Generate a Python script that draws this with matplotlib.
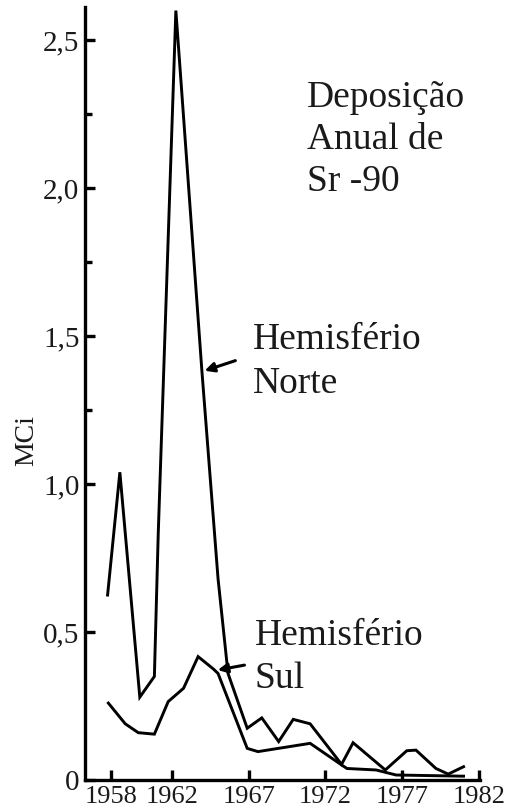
import matplotlib
matplotlib.use("Agg")
import matplotlib.pyplot as plt
import numpy as np

# Hemisfério Norte (anos, valores em MCi)
norte_anos = [1957.8, 1958.6, 1959.9, 1960.85, 1961.1, 1962.25, 1963.95, 1965.0,
              1965.65, 1966.9, 1967.85, 1968.95, 1969.9, 1971.0, 1973.05, 1973.8,
              1975.9, 1977.3, 1977.9, 1979.2, 1980.0, 1981.0]
norte_mci = [0.625, 1.04, 0.28, 0.35, 0.83, 2.60, 1.38, 0.68,
             0.36, 0.175, 0.21, 0.13, 0.205, 0.19, 0.053, 0.126,
             0.034, 0.099, 0.101, 0.039, 0.02, 0.045]

# Hemisfério Sul
sul_anos = [1957.85, 1958.95, 1959.8, 1960.85, 1961.75, 1962.75, 1963.7, 1964.7,
            1965.0, 1966.9, 1967.6, 1971.0, 1973.05, 1973.4, 1975.3, 1976.6, 1981.0]
sul_mci = [0.26, 0.19, 0.16, 0.155, 0.265, 0.31, 0.417, 0.375,
           0.36, 0.107, 0.096, 0.124, 0.051, 0.039, 0.034, 0.017, 0.013]

x_ticks = [1958, 1962, 1967, 1972, 1977, 1982]
y_ticks = [0, 0.5, 1.0, 1.5, 2.0, 2.5]
y_labels = ["0", "0,5", "1,0", "1,5", "2,0", "2,5"]
y_minor = [1.25, 1.75, 2.25]

serif = ["Liberation Serif", "DejaVu Serif"]
plt.rcParams["font.family"] = serif
cor_texto = "#1a1a1a"

fig = plt.figure(figsize=(5.07, 8.1), dpi=100)
ax = fig.add_axes([0.1677, 0.037, 0.779, 0.954])

ax.plot(norte_anos, norte_mci, color="black", lw=2.1, solid_joinstyle="miter")
ax.plot(sul_anos, sul_mci, color="black", lw=2.1, solid_joinstyle="miter")

ax.set_xlim(1956.33, 1982.07)
ax.set_ylim(0, 2.611)

for lado in ["top", "right"]:
    ax.spines[lado].set_visible(False)
for lado in ["left", "bottom"]:
    ax.spines[lado].set_linewidth(2.4)

ax.set_xticks(x_ticks)
ax.set_xticklabels([str(a) for a in x_ticks])
ax.set_yticks(y_ticks)
ax.set_yticklabels(y_labels)
ax.set_yticks(y_minor, minor=True)
ax.tick_params(axis="both", which="major", direction="in", length=7, width=2.4,
               labelsize=19, colors="black", labelcolor=cor_texto)
ax.tick_params(axis="x", pad=4)
ax.tick_params(axis="y", pad=4, labelsize=21)
ax.tick_params(axis="y", which="minor", direction="in", length=5, width=2.4)

ax.set_ylabel("MCi", fontsize=20, color=cor_texto)
ax.yaxis.set_label_coords(-0.115, 0.44)

ax.text(1970.8, 2.365, "Deposição\nAnual de\nSr -90", fontsize=27, va="top",
        ha="left", color=cor_texto, linespacing=1.3)
ax.text(1967.3, 1.545, "Hemisfério\nNorte", fontsize=27, va="top",
        ha="left", color=cor_texto, linespacing=1.33)
ax.text(1967.4, 0.545, "Hemisfério\nSul", fontsize=27, va="top",
        ha="left", color=cor_texto, linespacing=1.33)

# setas apontando para as curvas
seta = dict(arrowstyle="-|>", color="black", lw=2.2, mutation_scale=14)
xn = 1963.95
ax.annotate("", xy=(xn, np.interp(xn, norte_anos, norte_mci)),
            xytext=(1966.3, 1.42), arrowprops=seta)
xs = 1964.8
ax.annotate("", xy=(xs, np.interp(xs, sul_anos, sul_mci)),
            xytext=(1966.9, 0.39), arrowprops=seta)

fig.savefig("out.png", dpi=100)
